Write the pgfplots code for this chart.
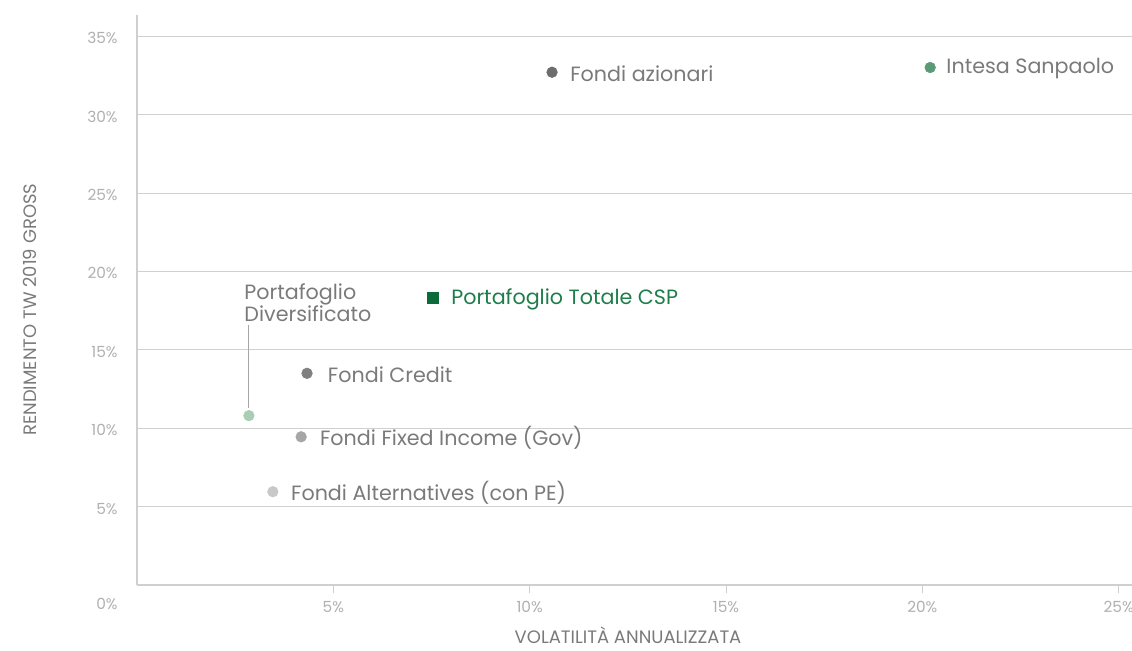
\documentclass[border=0pt]{standalone}
\usepackage{pgfplots}
\pgfplotsset{compat=1.18}
\usepackage{fontspec}
\setmainfont{Poppins}
\definecolor{gridc}{HTML}{D0D0D0}
\definecolor{axc}{HTML}{CFCFCF}
\definecolor{tickc}{HTML}{B0B0B0}
\definecolor{labc}{HTML}{7A7A7A}
\definecolor{azc}{HTML}{6D6D6D}
\definecolor{isc}{HTML}{5A9A77}
\definecolor{ptc}{HTML}{0B6B3A}
\definecolor{pttext}{HTML}{1E7D4A}
\definecolor{crc}{HTML}{808080}
\definecolor{pdc}{HTML}{A9CDB5}
\definecolor{fic}{HTML}{A6A6A6}
\definecolor{alc}{HTML}{C8C8C8}
\begin{document}
\begin{tikzpicture}
\useasboundingbox (-102.75pt,-48.75pt) rectangle (746.25pt,438.75pt);
\begin{axis}[
  scale only axis,
  width=746.25pt, height=427.5pt,
  xmin=0, xmax=25.34, ymin=0, ymax=36.35,
  axis lines*=left,
  axis line style={axc, line width=0.9pt},
  /pgf/number format/assume math mode=true,
  xtick={5,10,15,20,25},
  xticklabels={5\%,10\%,15\%,20\%,25\%},
  ytick={5,10,15,20,25,30,35},
  yticklabels={5\%,10\%,15\%,20\%,25\%,30\%,35\%},
  extra y ticks={0},
  extra y tick labels={0\%},
  extra y tick style={grid=none, yticklabel style={yshift=-12.5pt}},
  ymajorgrids, grid style={gridc, line width=0.7pt},
  ytick style={draw=none},
  xtick style={axc, line width=0.7pt},
  tick align=outside,
  major tick length=6pt,
  tick label style={font=\fontsize{11.5}{13}\selectfont, text=tickc},
  xticklabel style={yshift=-3pt},
  yticklabel style={xshift=-5pt, yshift=-1.5pt},
  xlabel={VOLATILITÀ ANNUALIZZATA},
  ylabel={RENDIMENTO TW 2019 GROSS},
  label style={font=\fontsize{13.5}{15}\selectfont, text=labc, inner sep=0pt},
  xlabel style={at={(axis description cs:0.4935,0)}, anchor=center, yshift=-37.5pt},
  ylabel style={at={(axis description cs:0,0.483)}, anchor=center, yshift=80pt},
  clip=false,
]
\addplot[only marks, mark=*, mark size=4pt, mark options={draw=azc, fill=azc}] coordinates {(10.57,32.7)};
\addplot[only marks, mark=*, mark size=4pt, mark options={draw=isc, fill=isc}] coordinates {(20.2,33.0)};
\addplot[only marks, mark=square*, mark size=4.2pt, mark options={draw=ptc, fill=ptc}] coordinates {(7.54,18.3)};
\addplot[only marks, mark=*, mark size=4pt, mark options={draw=crc, fill=crc}] coordinates {(4.33,13.5)};
\addplot[only marks, mark=*, mark size=4pt, mark options={draw=pdc, fill=pdc}] coordinates {(2.85,10.8)};
\addplot[only marks, mark=*, mark size=4pt, mark options={draw=fic, fill=fic}] coordinates {(4.18,9.45)};
\addplot[only marks, mark=*, mark size=4pt, mark options={draw=alc, fill=alc}] coordinates {(3.46,5.95)};
\begin{scope}[every node/.style={anchor=west, font=\fontsize{15.5}{17}\selectfont, text=labc, inner sep=0pt, yshift=-1pt}]
\node at ([xshift=13.5pt]axis cs:10.57,32.7) {Fondi azionari};
\node at ([xshift=12pt]axis cs:20.2,33.0) {Intesa Sanpaolo};
\node[text=pttext] at ([xshift=13.5pt]axis cs:7.54,18.3) {Portafoglio Totale CSP};
\node at ([xshift=15.5pt]axis cs:4.33,13.5) {Fondi Credit};
\node at ([xshift=14pt]axis cs:4.18,9.45) {Fondi Fixed Income (Gov)};
\node at ([xshift=13.5pt]axis cs:3.46,5.95) {Fondi Alternatives (con PE)};
\end{scope}
\draw[fic, line width=0.8pt] (axis cs:2.85,11.3) -- (axis cs:2.85,16.6);
\node[anchor=south west, align=left, inner sep=0pt, font=\fontsize{15.5}{16}\selectfont, text=labc] at (axis cs:2.73,16.75) {Portafoglio\\Diversificato};
\end{axis}
\end{tikzpicture}
\end{document}
